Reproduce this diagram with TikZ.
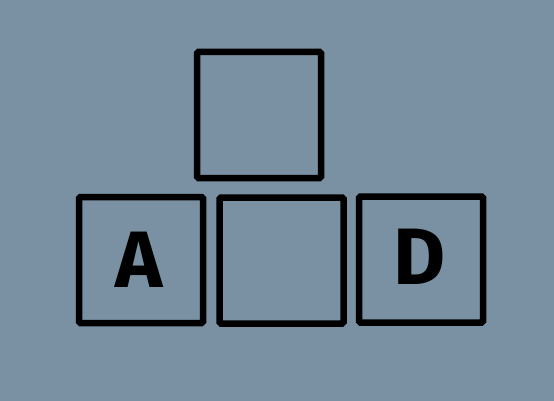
\documentclass[tikz,border=0pt]{standalone}
\usepackage{fontspec}
\newfontfamily\keyfont{Fira Sans}
\definecolor{bgslate}{RGB}{121,145,162}
\begin{document}
\begin{tikzpicture}[x=1pt,y=-1pt,
  keybox/.style={draw=black, line width=6.5pt, rounded corners=1.5pt, inner sep=0pt,
    minimum width=124pt, minimum height=126pt},
  keylabel/.style={inner sep=0pt, font=\keyfont\bfseries\fontsize{80}{80}\selectfont}]
\fill[bgslate] (0,0) rectangle (554,401);
\useasboundingbox (0,0) rectangle (554,401);
\node[keybox] (top) at (259,115) {};
\node[keybox] (left) at (141,260) {};
\node[keybox] (mid) at (281.5,260.5) {};
\node[keybox] (right) at (421,259.5) {};
\node[keylabel] (la) at (139,260) {A};
\node[keylabel] (ld) at (420,257) {D};
\end{tikzpicture}
\end{document}
